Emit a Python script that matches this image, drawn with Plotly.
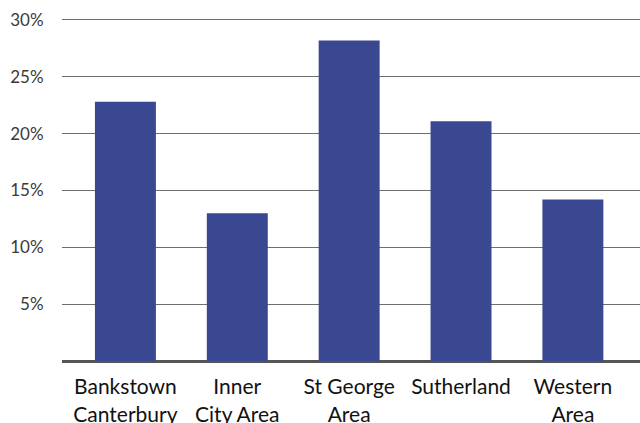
import plotly.graph_objects as go

# Share of respondents by area
areas = ["Bankstown<br>Canterbury", "Inner<br>City Area", "St George<br>Area", "Sutherland", "Western<br>Area"]
shares = [22.8, 13.0, 28.2, 21.1, 14.2]
tick_values = [5, 10, 15, 20, 25, 30]
tick_labels = ["5%", "10%", "15%", "20%", "25%", "30%"]

fig = go.Figure(
    go.Bar(
        x=list(range(len(areas))),
        y=shares,
        width=0.545,
        marker=dict(color="#3a4892", line=dict(width=0)),
        hoverinfo="skip",
    )
)

fig.update_layout(
    width=640,
    height=423,
    margin=dict(l=62, r=0, t=17, b=62),
    paper_bgcolor="white",
    plot_bgcolor="white",
    showlegend=False,
    font=dict(family="Lato, sans-serif", color="#222"),
    xaxis=dict(
        range=[-0.567, 4.6],
        tickvals=list(range(len(areas))),
        ticktext=areas,
        tickfont=dict(size=21, color="#111"),
        showgrid=False,
        ticks="outside",
        ticklen=7,
        tickcolor="rgba(0,0,0,0)",
        showline=False,
        zeroline=False,
        automargin=False,
        fixedrange=True,
    ),
    yaxis=dict(
        range=[0, 30.26],
        tickvals=tick_values,
        ticktext=tick_labels,
        tickfont=dict(size=17, color="#3a3a3a"),
        showgrid=True,
        gridcolor="#6e6e6e",
        gridwidth=1,
        zeroline=True,
        zerolinecolor="#555",
        zerolinewidth=2.5,
        ticks="outside",
        ticklen=14,
        tickcolor="rgba(0,0,0,0)",
        showline=False,
        automargin=False,
        fixedrange=True,
    ),
)

fig.write_html("out.html")
